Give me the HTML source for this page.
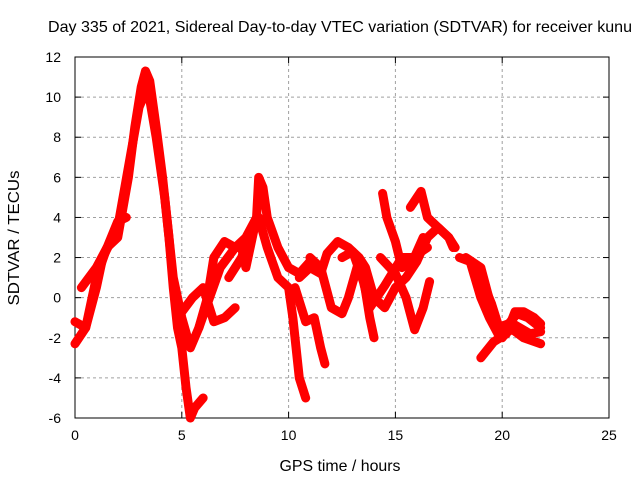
<!DOCTYPE html>
<html><head><meta charset="utf-8"><style>
body{margin:0;background:#fff}
svg{display:block;font-family:"Liberation Sans",sans-serif}
</style></head><body>
<svg width="640" height="480">
<text x="340" y="32" font-size="16" text-anchor="middle" textLength="584" lengthAdjust="spacingAndGlyphs">Day 335 of 2021, Sidereal Day-to-day VTEC variation (SDTVAR) for receiver kunu</text>
<g id="grid"></g>
<g id="axes"></g>
<g id="series"></g>
<text x="340" y="471" font-size="16" text-anchor="middle" textLength="121" lengthAdjust="spacingAndGlyphs">GPS time / hours</text>
<text x="19" y="238" font-size="16" text-anchor="middle" textLength="135" lengthAdjust="spacingAndGlyphs" transform="rotate(-90 19 238)">SDTVAR / TECUs</text>
</svg>
<script>
const xTicks=[0,5,10,15,20,25];
const yTicks=[-6,-4,-2,0,2,4,6,8,10,12];
const trackA=[[0,-2.3],[0.5,-1.5],[1,1],[1.5,2.5],[2,3],[2.5,6],[2.8,8.5],[3.1,10.5],[3.3,11.3],[3.5,10.8],[3.8,8.5],[4.1,6],[4.4,3],[4.6,0.5],[4.8,-1.5],[5,-2.5],[5.2,-4.5],[5.4,-6],[5.6,-5.5],[6,-5]];
const trackB=[[0,-1.2],[0.5,-1.5],[1,0.5],[1.3,2],[2,3.5],[2.5,6.5],[3,9.5],[3.4,10.5],[3.8,8],[4.2,5],[4.6,1],[5,-1],[5.4,-2.5],[5.8,-1.5],[6.2,0],[6.5,2],[7,2.8],[7.5,2.5],[8,3],[8.5,4]];
const trackC=[[0.3,0.5],[1,1.5],[1.5,2.5],[2,3.8],[2.4,4]];
const trackD=[[4.8,-1],[5.5,0],[6,0.5],[6.5,-1.2],[7,-1],[7.5,-0.5]];
const trackE=[[5.8,-1.5],[6.3,0],[6.8,1.5],[7.5,2.5],[7.8,2.5],[8,1.5],[8.5,4],[8.6,6],[8.8,5.5],[9,4],[9.5,2.5],[10,1.5],[10.5,1.2],[11,1.8]];
const trackF=[[7.2,1],[7.8,2],[8.3,3.5],[8.6,4],[9,2.5],[9.5,1],[10,0.5],[10.2,-1],[10.5,-4],[10.8,-5]];
const trackG=[[10.5,1],[11,1.5],[11.5,1.2],[11.8,2.2],[12.3,2.8],[12.8,2.5],[13.3,2],[13.6,1.5],[14,0],[14.5,-0.5],[15,0.5],[15.5,1],[16,1.8],[16.5,3],[17,3.5],[17.5,3],[17.7,2.5]];
const trackH=[[10.3,0.5],[10.8,-1.2],[11.2,-1],[11.5,-2.5],[11.7,-3.3]];
const trackI=[[11,2],[11.5,1.5],[12,-0.5],[12.5,-0.8],[12.8,0],[13.2,1.5],[13.5,1],[13.8,-1],[14,-2]];
const trackJ=[[14.4,5.2],[14.6,4],[15,2.8],[15.3,1.5],[15.8,1.8],[16.3,3]];
const trackK=[[15.7,4.5],[16.2,5.3],[16.5,4],[17,3.5],[17.5,3],[17.8,2.5]];
const trackL=[[14.3,2],[15,1.2],[15.5,0],[15.9,-1.6],[16.3,-0.5],[16.6,0.8]];
const trackM=[[12.5,2],[13,2.3],[13.5,0.8],[13.8,-0.5],[14.5,0.6],[15.3,2],[15.8,2],[16.5,2.5]];
const trackN=[[18,2],[18.5,1.8],[19,0],[19.4,-1],[19.8,-1.8],[20.5,-1.6],[21,-2],[21.8,-2.3]];
const trackO=[[18.3,2],[19,1.5],[19.5,-0.5],[19.8,-1.5],[20.3,-1.3],[20.7,-0.8],[21.2,-1],[21.8,-1.5]];
const trackP=[[19,-3],[19.6,-2.2],[20.2,-1.8],[20.6,-0.7],[21,-0.7],[21.5,-1],[21.8,-1.3]];
const trackQ=[[19,1],[19.5,-0.3],[20,-2],[20.5,-1.3],[21.3,-1.8],[21.8,-1.7]];
const tracks=[trackA,trackB,trackC,trackD,trackE,trackF,trackG,trackH,trackI,trackJ,trackK,trackL,trackM,trackN,trackO,trackP,trackQ];
const NS='http://www.w3.org/2000/svg';
const L=75,R=609,T=57,B=418;
const sx=v=>L+(v-0)/(25-0)*(R-L);
const sy=v=>B-(v+6)/(12+6)*(B-T);
function mk(tag,attrs,parent){const e=document.createElementNS(NS,tag);for(const k in attrs)e.setAttribute(k,attrs[k]);parent.appendChild(e);return e;}
const grid=document.getElementById('grid'),axes=document.getElementById('axes'),series=document.getElementById('series');
xTicks.forEach(t=>{
  if(t>0&&t<25){const g=mk('line',{x1:sx(t),x2:sx(t),y1:T,y2:B,stroke:'#a0a0a0','stroke-dasharray':'3,3'},grid);
  
  }
  const tx=mk('text',{x:sx(t),y:B+22,'font-size':14,'text-anchor':'middle'},axes);tx.textContent=t;
  
  
  mk('line',{x1:sx(t),x2:sx(t),y1:B,y2:B-6,stroke:'#000'},axes);
  mk('line',{x1:sx(t),x2:sx(t),y1:T,y2:T+6,stroke:'#000'},axes);
});
yTicks.forEach(t=>{
  if(t>-6&&t<12){const g=mk('line',{x1:L,x2:R,y1:sy(t),y2:sy(t),stroke:'#a0a0a0','stroke-dasharray':'3,3'},grid);
  
  }
  const tx=mk('text',{x:L-14,y:sy(t)+5,'font-size':14,'text-anchor':'end'},axes);tx.textContent=t;
  
  
  mk('line',{x1:L,x2:L+6,y1:sy(t),y2:sy(t),stroke:'#000'},axes);
  mk('line',{x1:R,x2:R-6,y1:sy(t),y2:sy(t),stroke:'#000'},axes);
});
mk('rect',{x:L,y:T,width:R-L,height:B-T,fill:'none',stroke:'#000'},axes);
tracks.forEach(tr=>{
  const p=mk('polyline',{points:tr.map(d=>sx(d[0])+','+sy(d[1])).join(' '),fill:'none',stroke:'#ff0000','stroke-width':9,'stroke-linejoin':'round','stroke-linecap':'round'},series);
  
  
});
</script>
</body></html>
